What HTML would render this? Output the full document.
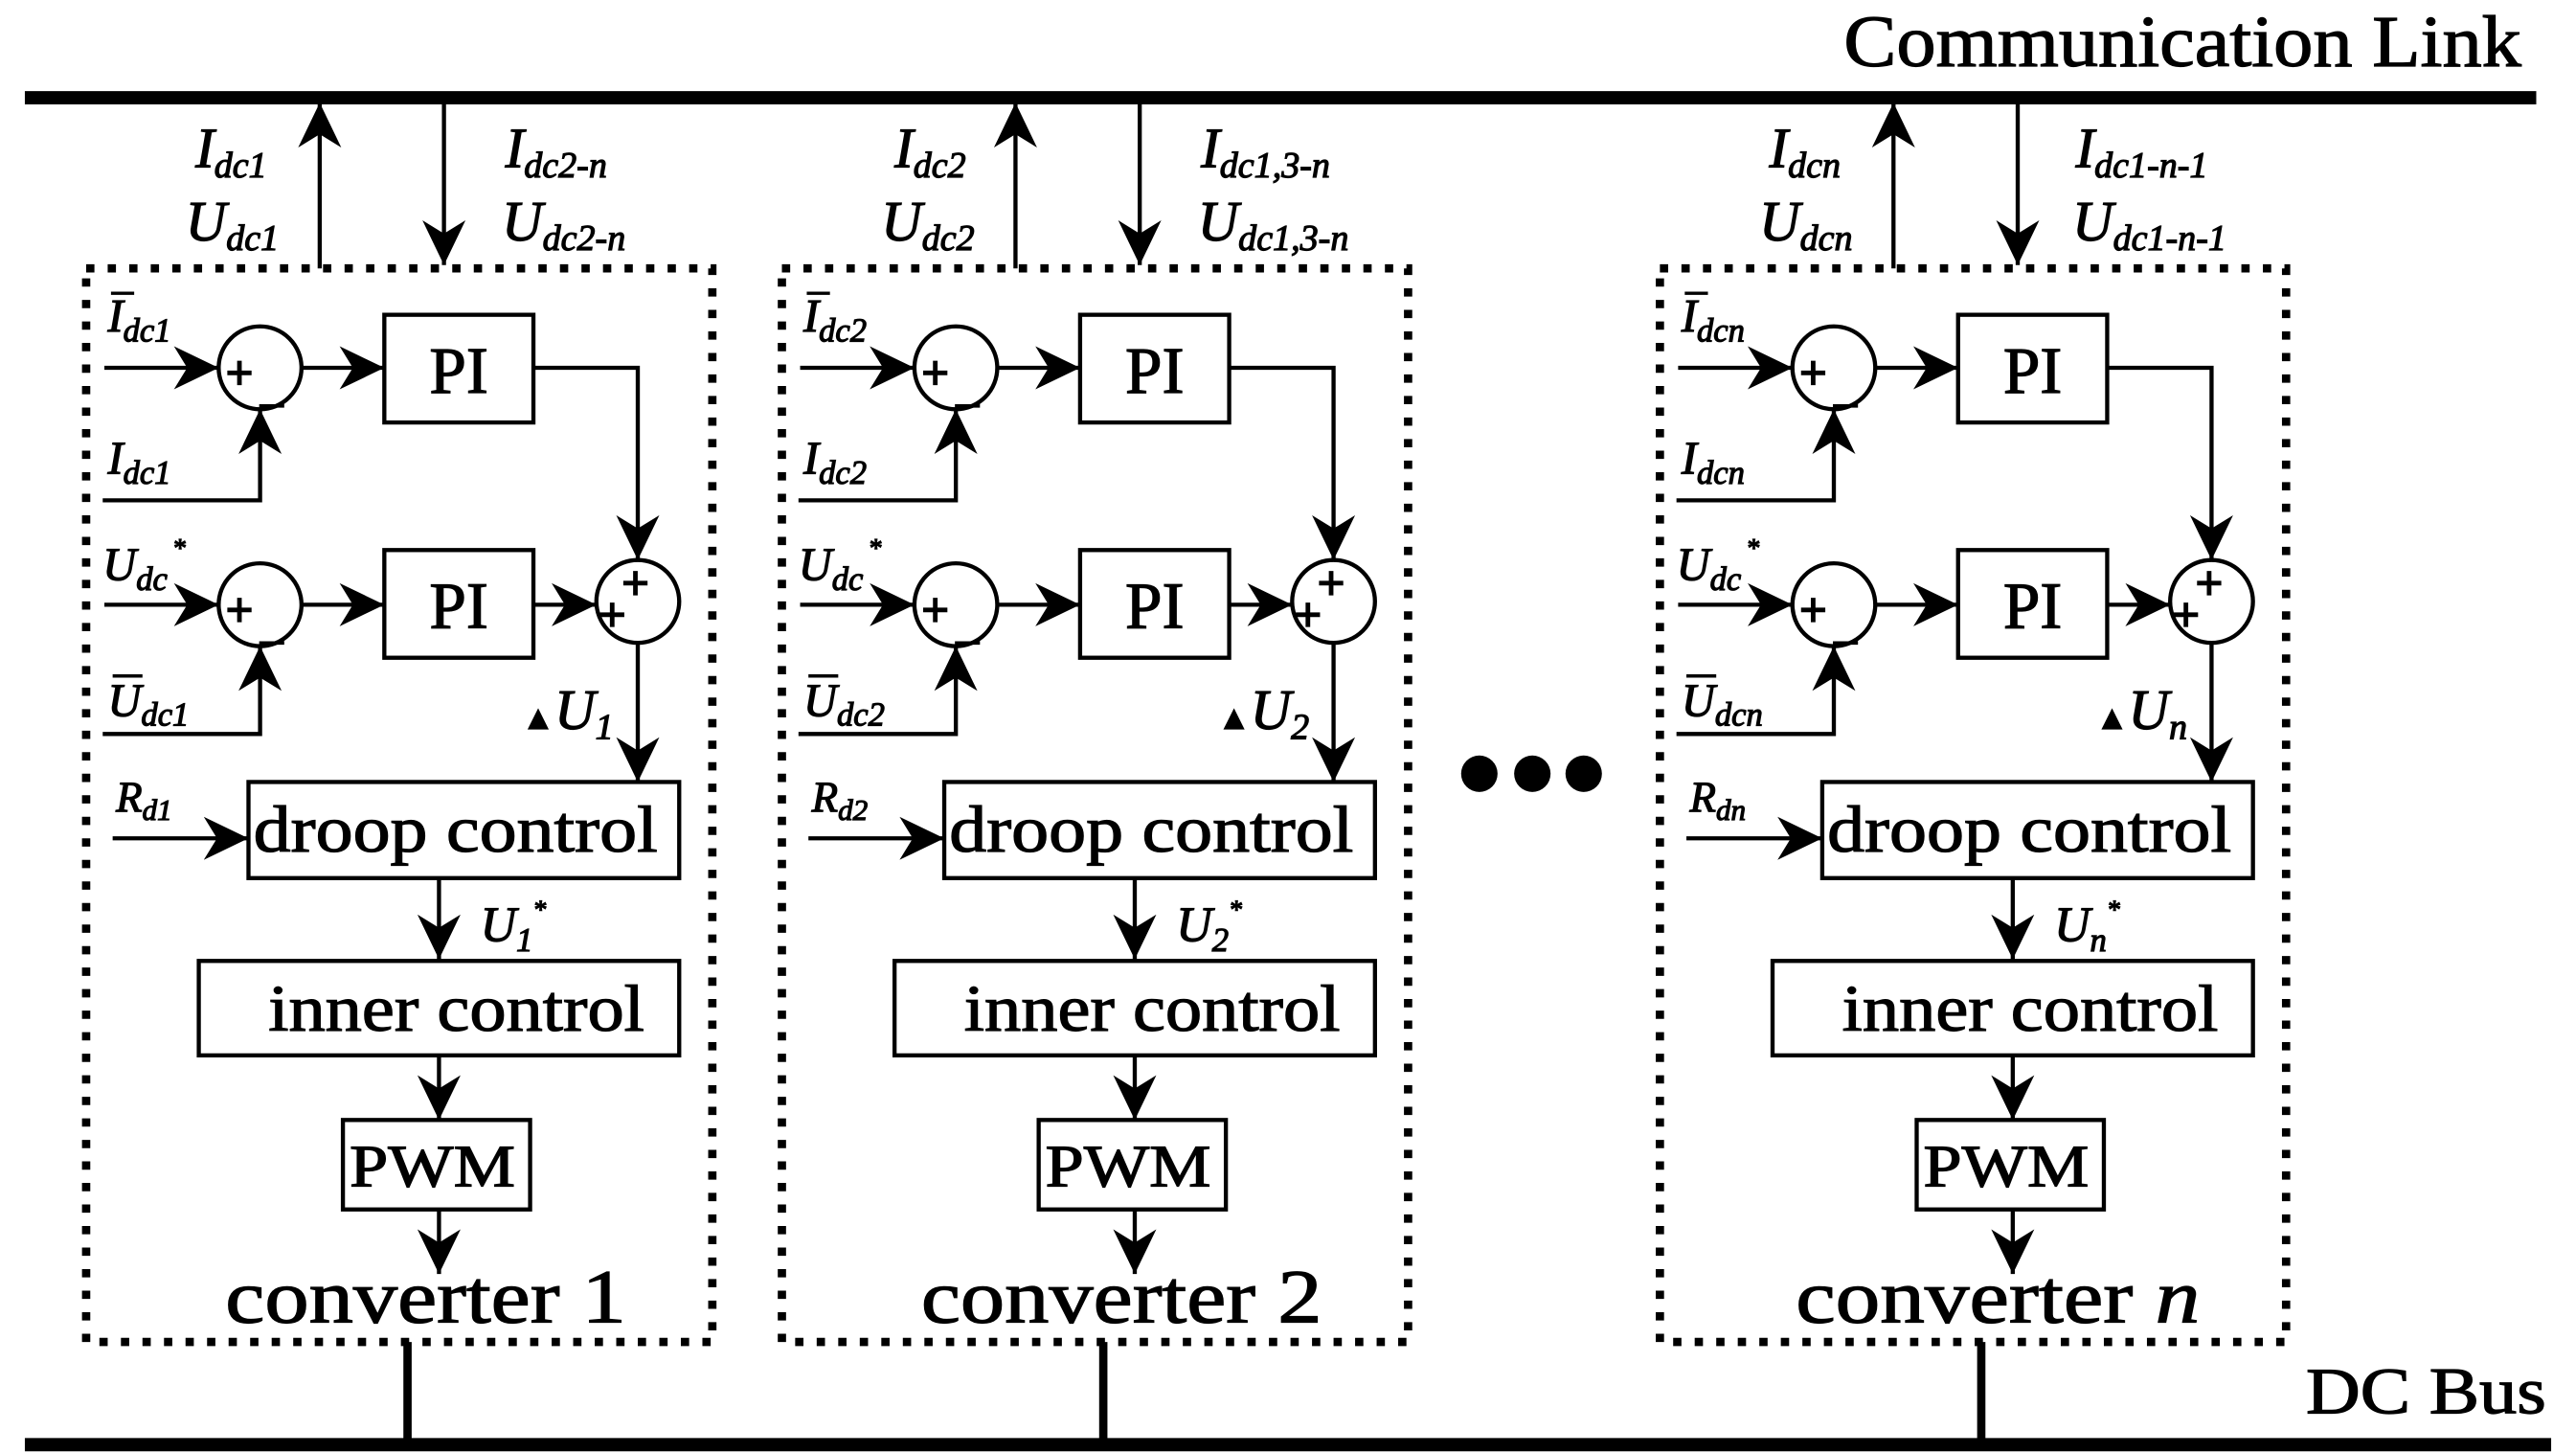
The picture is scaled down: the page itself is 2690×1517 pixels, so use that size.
<!DOCTYPE html>
<html><head><meta charset="utf-8"><style>
html,body{margin:0;padding:0;background:#fff;}
svg{display:block;}
text{font-family:"Liberation Serif",serif;fill:#000;stroke:#000;stroke-width:0.7;}
.v{font-style:italic;font-size:34px;}
.s{font-style:italic;font-size:22px;}
.b{font-size:40px;}
</style></head><body>
<svg width="2690" height="1517" viewBox="0 0 1555 877" preserveAspectRatio="none" xmlns="http://www.w3.org/2000/svg">
<defs>
<marker id="ah" markerUnits="userSpaceOnUse" markerWidth="30" markerHeight="28" refX="27" refY="14" orient="auto">
<path d="M0,1 L27,14 L0,27 L8,14 Z" fill="#000"/>
</marker>
<g id="conv">
<rect x="52" y="162" width="378" height="648" fill="none" stroke="#000" stroke-width="5" stroke-dasharray="5 8"/>
<line x1="193" y1="162" x2="193" y2="62" stroke="#000" stroke-width="2.5" marker-end="url(#ah)"/>
<line x1="268" y1="63" x2="268" y2="160" stroke="#000" stroke-width="2.5" marker-end="url(#ah)"/>
<line x1="246" y1="810" x2="246" y2="870" stroke="#000" stroke-width="5"/>
<line x1="63" y1="222" x2="132" y2="222" stroke="#000" stroke-width="2.5" marker-end="url(#ah)"/>
<circle cx="157" cy="222" r="25" fill="none" stroke="#000" stroke-width="2.5"/>
<text x="136" y="235" style="font-size:30px;font-weight:bold">+</text>
<text x="157" y="242" style="font-size:28px">_</text>
<polyline points="62,302 157,302 157,247" fill="none" stroke="#000" stroke-width="2.5" marker-end="url(#ah)"/>
<line x1="182" y1="222" x2="232" y2="222" stroke="#000" stroke-width="2.5" marker-end="url(#ah)"/>
<rect x="232" y="190" width="90" height="65" fill="none" stroke="#000" stroke-width="2.5"/>
<text x="277" y="237" text-anchor="middle" class="b">PI</text>
<polyline points="322,222 385,222 385,338" fill="none" stroke="#000" stroke-width="2.5" marker-end="url(#ah)"/>
<line x1="63" y1="365" x2="132" y2="365" stroke="#000" stroke-width="2.5" marker-end="url(#ah)"/>
<circle cx="157" cy="365" r="25" fill="none" stroke="#000" stroke-width="2.5"/>
<text x="136" y="378" style="font-size:30px;font-weight:bold">+</text>
<text x="157" y="385" style="font-size:28px">_</text>
<polyline points="62,443 157,443 157,390" fill="none" stroke="#000" stroke-width="2.5" marker-end="url(#ah)"/>
<line x1="182" y1="365" x2="232" y2="365" stroke="#000" stroke-width="2.5" marker-end="url(#ah)"/>
<rect x="232" y="332" width="90" height="65" fill="none" stroke="#000" stroke-width="2.5"/>
<text x="277" y="379" text-anchor="middle" class="b">PI</text>
<line x1="322" y1="365" x2="360" y2="365" stroke="#000" stroke-width="2.5" marker-end="url(#ah)"/>
<circle cx="385" cy="363" r="25" fill="none" stroke="#000" stroke-width="2.5"/>
<text x="361" y="381" style="font-size:30px;font-weight:bold">+</text>
<text x="375" y="362" style="font-size:30px;font-weight:bold">+</text>
<line x1="385" y1="388" x2="385" y2="472" stroke="#000" stroke-width="2.5" marker-end="url(#ah)"/>
<line x1="68" y1="506" x2="150" y2="506" stroke="#000" stroke-width="2.5" marker-end="url(#ah)"/>
<rect x="150" y="472" width="260" height="58" fill="none" stroke="#000" stroke-width="2.5"/>
<text x="153" y="514" class="b" textLength="244" lengthAdjust="spacingAndGlyphs">droop control</text>
<line x1="265" y1="530" x2="265" y2="579" stroke="#000" stroke-width="2.5" marker-end="url(#ah)"/>
<rect x="120" y="580" width="290" height="57" fill="none" stroke="#000" stroke-width="2.5"/>
<text x="162" y="622" class="b" textLength="227" lengthAdjust="spacingAndGlyphs">inner control</text>
<line x1="265" y1="637" x2="265" y2="676" stroke="#000" stroke-width="2.5" marker-end="url(#ah)"/>
<rect x="207" y="676" width="113" height="54" fill="none" stroke="#000" stroke-width="2.5"/>
<text x="211" y="716" style="font-size:36px" textLength="100" lengthAdjust="spacingAndGlyphs">PWM</text>
<line x1="265" y1="730" x2="265" y2="769" stroke="#000" stroke-width="2.5" marker-end="url(#ah)"/>
</g>
</defs>

<line x1="15" y1="59" x2="1531" y2="59" stroke="#000" stroke-width="8"/>
<text x="1113" y="40" style="font-size:44px" textLength="409" lengthAdjust="spacingAndGlyphs">Communication Link</text>
<line x1="15" y1="872" x2="1540" y2="872" stroke="#000" stroke-width="8"/>
<text x="1392" y="853" style="font-size:40px" textLength="145" lengthAdjust="spacingAndGlyphs">DC Bus</text>

<circle cx="893" cy="467" r="11"/><circle cx="925" cy="467" r="11"/><circle cx="956" cy="467" r="11"/>

<use href="#conv"/>
<g>
<text x="118" y="101" class="v">I<tspan class="s" dy="6">dc1</tspan></text>
<text x="112" y="145" class="v">U<tspan class="s" dy="6">dc1</tspan></text>
<text x="305" y="101" class="v">I<tspan class="s" dy="6">dc2-n</tspan></text>
<text x="303" y="145" class="v">U<tspan class="s" dy="6">dc2-n</tspan></text>
<text x="65" y="200" class="v" style="font-size:28px">I<tspan class="s" dy="6" style="font-size:20px">dc1</tspan></text>
<line x1="67" y1="177" x2="81" y2="177" stroke="#000" stroke-width="2"/>
<text x="65" y="286" class="v" style="font-size:28px">I<tspan class="s" dy="6" style="font-size:20px">dc1</tspan></text>
<text x="62" y="350" class="v" style="font-size:28px">U<tspan class="s" dy="6" style="font-size:20px">dc</tspan></text>
<text x="104" y="336" class="s" style="font-size:16px">*</text>
<text x="65" y="432" class="v" style="font-size:28px">U<tspan class="s" dy="6" style="font-size:20px">dc1</tspan></text>
<line x1="68" y1="408" x2="86" y2="408" stroke="#000" stroke-width="2"/>
<text x="315" y="440" class="v"><tspan style="font-style:normal;font-size:20px">▲</tspan>U<tspan class="s" dy="6">1</tspan></text>
<text x="70" y="490" class="v" style="font-size:26px">R<tspan class="s" dy="5" style="font-size:18px">d1</tspan></text>
<text x="290" y="568" class="v" style="font-size:30px">U<tspan class="s" dy="6" style="font-size:20px">1</tspan><tspan dy="-20" style="font-size:16px">*</tspan></text>
<text x="136" y="798" style="font-size:46px" textLength="242" lengthAdjust="spacingAndGlyphs">converter 1</text>
</g>

<use href="#conv" transform="translate(420,0)"/>
<g transform="translate(420,0)">
<text x="120" y="101" class="v">I<tspan class="s" dy="6">dc2</tspan></text>
<text x="112" y="145" class="v">U<tspan class="s" dy="6">dc2</tspan></text>
<text x="305" y="101" class="v">I<tspan class="s" dy="6">dc1,3-n</tspan></text>
<text x="303" y="145" class="v">U<tspan class="s" dy="6">dc1,3-n</tspan></text>
<text x="65" y="200" class="v" style="font-size:28px">I<tspan class="s" dy="6" style="font-size:20px">dc2</tspan></text>
<line x1="67" y1="177" x2="81" y2="177" stroke="#000" stroke-width="2"/>
<text x="65" y="286" class="v" style="font-size:28px">I<tspan class="s" dy="6" style="font-size:20px">dc2</tspan></text>
<text x="62" y="350" class="v" style="font-size:28px">U<tspan class="s" dy="6" style="font-size:20px">dc</tspan></text>
<text x="104" y="336" class="s" style="font-size:16px">*</text>
<text x="65" y="432" class="v" style="font-size:28px">U<tspan class="s" dy="6" style="font-size:20px">dc2</tspan></text>
<line x1="68" y1="408" x2="86" y2="408" stroke="#000" stroke-width="2"/>
<text x="315" y="440" class="v"><tspan style="font-style:normal;font-size:20px">▲</tspan>U<tspan class="s" dy="6">2</tspan></text>
<text x="70" y="490" class="v" style="font-size:26px">R<tspan class="s" dy="5" style="font-size:18px">d2</tspan></text>
<text x="290" y="568" class="v" style="font-size:30px">U<tspan class="s" dy="6" style="font-size:20px">2</tspan><tspan dy="-20" style="font-size:16px">*</tspan></text>
<text x="136" y="798" style="font-size:46px" textLength="242" lengthAdjust="spacingAndGlyphs">converter 2</text>
</g>

<use href="#conv" transform="translate(950,0)"/>
<g transform="translate(950,0)">
<text x="118" y="101" class="v">I<tspan class="s" dy="6">dcn</tspan></text>
<text x="112" y="145" class="v">U<tspan class="s" dy="6">dcn</tspan></text>
<text x="303" y="101" class="v">I<tspan class="s" dy="6">dc1-n-1</tspan></text>
<text x="301" y="145" class="v">U<tspan class="s" dy="6">dc1-n-1</tspan></text>
<text x="65" y="200" class="v" style="font-size:28px">I<tspan class="s" dy="6" style="font-size:20px">dcn</tspan></text>
<line x1="67" y1="177" x2="81" y2="177" stroke="#000" stroke-width="2"/>
<text x="65" y="286" class="v" style="font-size:28px">I<tspan class="s" dy="6" style="font-size:20px">dcn</tspan></text>
<text x="62" y="350" class="v" style="font-size:28px">U<tspan class="s" dy="6" style="font-size:20px">dc</tspan></text>
<text x="104" y="336" class="s" style="font-size:16px">*</text>
<text x="65" y="432" class="v" style="font-size:28px">U<tspan class="s" dy="6" style="font-size:20px">dcn</tspan></text>
<line x1="68" y1="408" x2="86" y2="408" stroke="#000" stroke-width="2"/>
<text x="315" y="440" class="v"><tspan style="font-style:normal;font-size:20px">▲</tspan>U<tspan class="s" dy="6">n</tspan></text>
<text x="70" y="490" class="v" style="font-size:26px">R<tspan class="s" dy="5" style="font-size:18px">dn</tspan></text>
<text x="290" y="568" class="v" style="font-size:30px">U<tspan class="s" dy="6" style="font-size:20px">n</tspan><tspan dy="-20" style="font-size:16px">*</tspan></text>
<text x="134" y="798" style="font-size:46px" textLength="244" lengthAdjust="spacingAndGlyphs">converter <tspan font-style="italic">n</tspan></text>
</g>
</svg>
</body></html>
